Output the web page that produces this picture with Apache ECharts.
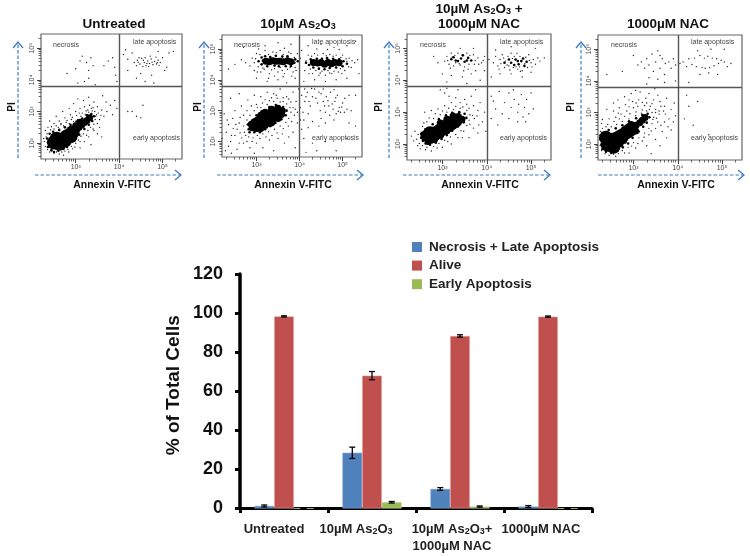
<!DOCTYPE html>
<html>
<head>
<meta charset="utf-8">
<title>Annexin V / PI flow cytometry</title>
<style>html,body{margin:0;padding:0;background:#fff}#chart{width:750px;height:556px}</style>
<script src="https://cdn.jsdelivr.net/npm/echarts@6/dist/echarts.min.js"></script>
</head>
<body>
<div id="chart"></div>
<script>
// bar chart values
var categories = ['Untreated', '10µM As2O3', '10µM As2O3+\n1000µM NAC', '1000µM NAC'];
var necrosisLate = [1.3, 28.5, 10, 1];
var alive = [98.3, 68, 88.3, 98.2];
var earlyApoptosis = [0, 3.2, 1, 0];
var necrosisLateErr = [0.5, 2.9, 0.7, 0.5];
var aliveErr = [0.3, 2.1, 0.6, 0.3];
var earlyApoptosisErr = [0, 0.4, 0.3, 0];
var yTicks = [0, 20, 40, 60, 80, 100, 120];

// flow panels, points are [log10 Annexin V, log10 PI], hand estimated from the plots.
// core / mid = solid mass, speck = thick speckle, dots = single events
var untreatedCore = [[2.5,2.02],[2.56,2.14],[2.62,1.98],[2.68,2.12],[2.75,2.08],[2.8,2.22],[2.88,2.22],[2.92,2.34]];
var untreatedMid = [[3.02,2.42],[3.08,2.5],[3.14,2.58],[3.2,2.65],[3.26,2.72],[3.32,2.8],[3.0,2.55],[3.1,2.66],[2.95,2.2]];
var untreatedSpeck = [[2.36,2.02],[2.34,2.15],[2.36,1.88],[2.44,1.78],[2.6,1.76],[2.72,1.82],[2.85,1.98],[2.98,2.1],[3.08,2.27],[3.2,2.45],[3.3,2.58],[3.38,2.7],[3.42,2.85],[3.36,2.92],[3.26,2.88],[3.15,2.78],[3.02,2.68],[2.88,2.58],[2.75,2.5],[2.62,2.42],[2.48,2.36],[2.4,2.3],[2.5,1.72],[2.8,1.88]];
var untreatedDots = [[2.28,2.05],[2.3,1.9],[2.32,2.2],[2.35,1.8],[2.34,2.3],[2.4,1.72],[2.45,1.75],[2.5,1.68],[2.56,1.72],[2.62,1.66],[2.68,1.72],[2.75,1.75],[2.82,1.8],[2.9,1.9],[2.93,1.82],[3.0,2.0],[3.06,2.1],[3.12,2.22],[3.18,2.3],[3.28,2.4],[3.34,2.5],[3.42,2.6],[3.45,2.75],[3.48,2.9],[3.44,3.0],[3.38,3.02],[3.3,2.98],[3.22,2.9],[3.12,2.85],[3.04,2.75],[2.95,2.68],[2.85,2.62],[2.72,2.55],[2.6,2.5],[2.5,2.45],[2.42,2.42],[2.36,2.5],[2.5,2.62],[2.62,2.7],[2.75,2.8],[2.88,2.9],[3.0,3.0],[3.1,3.1],[3.2,3.15],[3.32,3.2],[2.7,3.0],[2.85,3.1],[2.95,3.25],[3.05,3.4],[3.18,3.35],[3.3,3.45],[3.42,3.3],[3.5,3.15],[3.6,3.05],[3.55,2.75],[3.65,2.85],[3.72,3.0],[3.8,3.2],[3.7,3.3],[3.62,3.5],[3.85,2.9],[3.9,3.35],[3.95,3.1],[3.4,2.45],[3.55,2.5],[3.3,2.2],[3.5,2.3],[3.2,2.05],[3.35,1.95],[3.1,1.85],[3.6,2.2],[2.55,2.85],[2.4,2.7],[3.52,2.95],[3.46,2.85],[3.28,3.05],[3.15,2.95],[3.02,2.88],[2.9,2.75],[2.78,2.66],[2.66,2.58],[2.55,2.55],[2.44,2.52],[3.36,3.1],[2.66,2.62],[2.8,2.72],[2.92,2.82],[3.08,2.95],[3.24,3.02],[3.4,3.12],[3.58,2.88],[3.5,2.62],[3.42,2.4],[3.25,2.25],[3.1,2.05],[2.98,1.88],[2.84,1.72],[2.72,1.62],[2.26,2.15],[2.3,2.4],
[4.35,4.55],[4.42,4.62],[4.48,4.5],[4.52,4.68],[4.58,4.55],[4.62,4.45],[4.66,4.6],[4.7,4.52],[4.74,4.66],[4.78,4.48],[4.82,4.58],[4.86,4.5],[4.9,4.62],[4.95,4.55],[5.0,4.7],[4.4,4.45],[4.46,4.7],[4.55,4.42],[4.6,4.7],[4.68,4.42],[4.72,4.75],[4.85,4.72],[4.3,4.85],[4.15,4.95],[4.2,4.3],[4.5,4.2],[4.75,4.15],[4.9,4.9],[5.15,4.85],[5.25,4.9],[5.1,4.4],[4.6,3.95],[4.8,3.9],[4.4,4.05],[4.2,4.65],[4.1,4.8],[5.05,4.3],[4.44,4.56],[4.56,4.62],[4.64,4.52],[4.76,4.56],[4.88,4.54],[4.92,4.46],
[3.0,4.35],[3.1,4.6],[3.25,4.55],[3.3,4.3],[3.35,4.7],[3.3,4.05],[3.4,4.45],[3.2,3.95],[3.05,3.9],[3.65,4.45],[3.75,4.6],[3.85,4.7],[3.9,4.4],[3.92,4.15],[2.8,4.2],[3.45,3.85],[3.15,4.75],[3.95,3.95],
[4.2,3.0],[4.3,3.0],[4.4,2.85],[4.5,2.8],[4.55,3.2]];

var as2o3Core = [[3.0,2.55],[3.08,2.62],[3.16,2.7],[3.24,2.76],[3.32,2.82],[3.4,2.88],[3.46,2.92],[3.3,2.7]];
var as2o3Mid = [[2.9,2.45],[2.88,2.56],[3.0,2.42],[3.1,2.42],[3.2,2.52],[3.35,2.62],[3.5,2.75],[3.58,2.88],[3.6,3.0],[3.5,3.08],[3.35,3.05],[3.2,2.95],[3.1,2.85],
[3.22,4.6],[3.3,4.58],[3.38,4.62],[3.46,4.6],[3.54,4.6],[3.62,4.58],[3.72,4.62],[3.8,4.58],
[4.32,4.56],[4.42,4.54],[4.5,4.56],[4.58,4.5],[4.66,4.56],[4.74,4.52],[4.82,4.56],[4.92,4.55]];
var as2o3Speck = [[2.82,2.4],[2.8,2.55],[2.84,2.3],[3.0,2.72],[2.95,2.3],[3.08,2.3],[3.2,2.4],[3.32,2.5],[3.44,2.6],[3.58,2.72],[3.68,2.85],[3.7,3.0],[3.62,3.12],[3.45,3.18],[3.3,3.12],[3.12,2.98],[3.0,2.85],[2.92,2.68],
[3.05,4.6],[3.12,4.5],[3.12,4.72],[3.2,4.76],[3.25,4.44],[3.32,4.74],[3.42,4.46],[3.45,4.78],[3.52,4.44],[3.6,4.75],[3.68,4.44],[3.72,4.76],[3.8,4.45],[3.88,4.55],[3.9,4.66],[3.96,4.6],[3.15,4.62],
[4.15,4.55],[4.22,4.48],[4.26,4.66],[4.32,4.4],[4.4,4.68],[4.45,4.36],[4.52,4.68],[4.58,4.34],[4.64,4.7],[4.7,4.38],[4.78,4.68],[4.85,4.4],[4.92,4.66],[5.0,4.44],[5.02,4.6],[5.1,4.52]];
var as2o3Dots = [[2.72,2.3],[2.7,2.5],[2.78,2.7],[2.75,2.2],[2.82,2.15],[2.92,2.12],[3.02,2.2],[3.15,2.25],[3.28,2.32],[3.42,2.4],[3.55,2.5],[3.68,2.62],[3.75,2.75],[3.8,2.95],[3.78,3.1],[3.7,3.22],[3.55,3.28],[3.4,3.3],[3.25,3.2],[3.1,3.1],[2.95,3.0],[2.85,2.85],[2.7,2.85],[2.6,2.6],[2.55,2.4],[2.5,2.2],[2.4,2.0],[2.3,2.3],[2.35,1.85],[2.45,2.75],[2.28,1.7],[2.55,1.75],[2.7,1.95],[2.85,1.8],[3.0,1.95],[3.15,1.8],[3.3,2.05],[3.5,2.1],[3.65,1.95],[3.85,2.3],[3.95,2.6],[2.35,2.55],[2.5,3.0],[2.65,3.15],[2.8,3.35],[2.95,3.5],[3.1,3.45],[3.25,3.6],[3.4,3.55],[3.55,3.7],[3.7,3.45],[3.85,3.6],[3.92,3.3],[3.85,3.1],[3.95,2.95],[2.4,3.4],[2.6,3.55],[3.0,3.2],[3.2,3.35],[3.35,3.42],[3.48,3.4],[3.62,3.3],[3.75,3.38],[3.98,3.7],[2.25,2.9],[3.6,2.25],[3.75,2.15],[3.9,1.8],[2.42,1.62],[2.95,1.62],[3.4,1.7],[2.62,2.28],[2.66,2.12],[2.78,2.0],[2.9,2.0],[3.08,2.1],[3.22,2.15],[3.36,2.2],[3.48,2.28],[3.62,2.42],[3.74,2.5],[3.82,2.65],[3.88,2.85],[3.9,3.05],[3.8,3.28],[3.62,3.42],[3.46,3.5],[3.3,3.32],[3.14,3.25],[3.02,3.1],[2.88,3.15],[2.78,3.0],[2.62,2.78],[2.52,2.55],[2.46,2.42],[2.6,1.95],[2.42,2.2],[2.2,2.1],[2.32,2.7],
[4.05,3.5],[4.12,3.3],[4.18,3.6],[4.25,3.15],[4.3,3.45],[4.35,3.7],[4.42,3.25],[4.48,3.0],[4.5,3.55],[4.55,3.3],[4.6,2.95],[4.62,3.45],[4.68,3.15],[4.72,3.6],[4.78,3.05],[4.82,3.3],[4.85,2.9],[4.88,3.5],[4.92,3.1],[4.95,2.95],[5.0,3.25],[5.05,3.4],[5.1,3.05],[4.2,2.9],[4.1,2.7],[4.3,2.65],[4.05,2.4],[4.45,2.5],[4.6,2.6],[4.8,2.7],[5.2,3.0],[5.15,2.6],[4.1,2.1],[4.3,1.95],[4.6,2.0],[4.85,1.7],[5.1,2.1],[5.3,2.5],[4.4,1.7],[4.15,1.65],[5.3,3.5],[4.02,3.1],[4.08,2.95],[4.15,3.45],[4.22,3.3],[4.38,3.4],[4.45,3.6],[4.58,3.15],[4.66,3.32],[4.76,3.22],[4.84,3.42],[4.9,2.98],[4.98,3.12],[5.04,2.95],[4.12,3.7],[4.28,3.72],[4.55,3.7],[4.8,3.68],[5.15,3.5],[4.02,2.7],[4.2,2.45],[4.5,2.75],[4.7,2.85],
[2.75,4.55],[2.85,4.45],[2.9,4.7],[2.95,4.3],[3.0,4.85],[3.1,4.25],[3.2,4.95],[3.3,4.2],[3.38,4.9],[3.5,4.25],[3.55,4.95],[3.65,4.2],[3.75,4.9],[3.85,4.25],[3.95,4.85],[2.65,4.65],[2.5,4.5],[2.35,4.35],[3.0,4.05],[3.25,3.95],[3.5,4.0],[3.7,3.9],[3.9,4.05],[3.2,5.1],[3.5,5.2],[3.8,5.15],[2.7,5.05],[4.0,4.3],[4.02,4.7],[4.05,4.95],[3.04,4.42],[3.15,4.38],[3.28,4.82],[3.42,4.36],[3.55,4.4],[3.62,4.82],[3.78,4.4],[3.9,4.4],[3.88,4.72],[2.95,4.55],[2.98,4.68],[3.08,4.82],[3.18,4.34],[3.35,4.32],[3.46,4.88],[3.6,4.3],[3.72,4.34],[3.8,4.85],[3.92,4.3],[3.02,4.25],[3.42,4.12],[3.62,4.1],[3.82,4.12],[3.28,4.05],[3.05,5.0],[3.65,5.02],
[4.12,4.3],[4.2,4.8],[4.3,4.2],[4.35,4.85],[4.45,4.15],[4.55,4.85],[4.6,4.15],[4.7,4.82],[4.75,4.2],[4.85,4.8],[4.9,4.25],[5.0,4.8],[5.05,4.3],[5.15,4.7],[5.2,4.4],[5.28,4.55],[5.35,4.65],[4.1,3.95],[4.35,4.0],[4.6,3.95],[4.85,4.0],[5.1,4.05],[4.2,5.1],[4.5,5.15],[4.8,5.05],[5.1,5.1],[5.3,5.25],[5.38,4.2],[4.15,4.62],[4.25,4.35],[4.38,4.3],[4.52,4.28],[4.66,4.3],[4.8,4.28],[4.95,4.36],[5.1,4.6],[5.14,4.42],[4.28,4.76],[4.42,4.8],[4.62,4.78],[4.78,4.76],[4.96,4.72],[5.08,4.68],[4.22,4.2],[4.48,4.22],[4.7,4.22],[4.98,4.2],[5.22,4.62],[4.4,5.0],[4.65,4.98],[4.92,4.98]];

var comboCore = [[2.72,2.22],[2.8,2.28],[2.88,2.36],[2.96,2.44],[3.04,2.5],[3.12,2.58],[3.2,2.64],[3.28,2.72],[2.72,2.34]];
var comboMid = [[2.6,2.2],[2.58,2.3],[2.68,2.08],[2.82,2.14],[2.96,2.28],[3.1,2.42],[3.36,2.68],[3.44,2.78],[3.36,2.86],[3.24,2.88],[3.1,2.78],[2.95,2.66]];
var comboSpeck = [[2.52,2.2],[2.52,2.32],[2.56,2.1],[2.62,2.02],[2.72,1.98],[2.85,2.04],[2.98,2.16],[3.1,2.28],[3.22,2.42],[3.35,2.55],[3.48,2.68],[3.54,2.82],[3.5,2.95],[3.38,3.0],[3.22,2.98],[3.08,2.9],[2.92,2.78],[2.78,2.62],[2.62,2.46],
[3.25,4.72],[3.35,4.6],[3.42,4.68],[3.5,4.58],[3.58,4.7],[3.65,4.62],[3.3,4.62],[3.46,4.78],[3.55,4.62],[3.2,4.66],
[4.4,4.55],[4.5,4.65],[4.55,4.55],[4.65,4.65],[4.72,4.5],[4.78,4.6],[4.85,4.45],[4.9,4.58],[4.62,4.48],[4.7,4.6],[4.82,4.68]];
var comboDots = [[2.45,2.3],[2.42,2.15],[2.48,2.02],[2.55,1.95],[2.65,1.9],[2.8,1.92],[2.92,2.02],[3.05,2.12],[3.18,2.22],[3.3,2.3],[3.42,2.42],[3.55,2.58],[3.6,2.75],[3.62,2.92],[3.55,3.05],[3.4,3.12],[3.25,3.08],[3.1,3.0],[2.95,2.92],[2.8,2.8],[2.65,2.7],[2.55,2.55],[2.38,2.4],[2.35,2.1],[2.5,1.85],[2.75,1.78],[3.0,1.9],[3.2,2.0],[3.45,2.2],[3.7,2.5],[3.72,2.8],[3.8,3.05],[3.7,3.2],[3.55,3.25],[3.4,3.3],[3.2,3.3],[3.05,3.2],[2.9,3.1],[2.75,3.05],[3.15,3.5],[3.3,3.45],[3.5,3.4],[3.65,3.5],[3.85,3.3],[3.95,3.0],[3.9,2.7],[3.8,2.35],[3.6,2.2],[3.05,3.6],[2.95,3.7],[3.1,3.75],[3.35,3.7],[3.75,3.7],[2.3,2.25],[2.6,3.0],[3.98,2.4],[3.62,2.62],[3.68,2.9],[3.6,3.12],[3.46,3.16],[3.3,3.18],[3.14,3.12],[3.0,3.04],[2.84,2.95],[2.7,2.82],[2.58,2.66],[3.48,2.4],[3.35,2.2],[3.12,2.08],[2.88,1.88],[2.62,1.82],[2.44,1.95],[3.82,2.6],[3.78,2.88],
[4.1,3.5],[4.2,3.1],[4.28,3.65],[4.35,2.95],[4.4,3.3],[4.5,3.6],[4.55,3.15],[4.62,3.4],[4.7,3.0],[4.72,3.25],[4.78,3.55],[4.82,2.85],[4.85,3.15],[4.9,3.4],[4.95,2.95],[4.7,2.7],[4.5,2.8],[4.25,2.6],[4.1,2.8],[5.05,3.1],[5.0,3.6],[4.15,3.35],[4.6,3.7],[4.88,2.7],
[3.05,4.6],[3.1,4.75],[3.15,4.5],[3.2,4.85],[3.25,4.45],[3.3,4.55],[3.35,4.85],[3.4,4.48],[3.45,4.8],[3.5,4.42],[3.55,4.85],[3.6,4.5],[3.7,4.8],[3.72,4.5],[3.8,4.7],[3.88,4.55],[3.95,4.75],[3.0,4.2],[3.2,4.15],[3.45,4.1],[3.65,4.2],[3.85,4.0],[3.75,4.3],[2.9,4.55],[2.8,4.75],[3.4,5.0],[3.7,5.0],[3.95,4.3],[3.1,3.95],[3.55,3.9],[3.12,4.62],[3.22,4.72],[3.28,4.78],[3.38,4.52],[3.62,4.78],[3.74,4.62],[3.82,4.5],[3.92,4.62],[3.18,4.38],[3.48,4.3],[3.58,4.35],
[4.05,4.65],[4.15,4.55],[4.2,4.75],[4.25,4.45],[4.3,4.65],[4.35,4.8],[4.4,4.4],[4.42,4.6],[4.48,4.75],[4.5,4.45],[4.55,4.85],[4.6,4.4],[4.62,4.75],[4.68,4.85],[4.7,4.35],[4.75,4.75],[4.8,4.3],[4.88,4.72],[4.92,4.4],[4.95,4.8],[5.0,4.55],[5.05,4.65],[5.1,4.5],[5.15,4.7],[5.2,4.6],[5.3,4.7],[4.3,4.2],[4.55,4.2],[4.8,4.1],[5.0,4.25],[4.2,4.95],[4.55,5.05],[5.1,5.0],[4.1,4.1],[4.32,4.52],[4.38,4.7],[4.46,4.48],[4.58,4.68],[4.66,4.42],[4.74,4.42],[4.86,4.52],[4.96,4.62],[5.02,4.42],[4.28,4.35],[4.52,4.32],[4.76,4.28]];

var nacCore = [[2.42,1.98],[2.42,2.12],[2.52,2.0],[2.55,2.15],[2.62,2.1],[2.68,2.22],[2.76,2.28],[2.85,2.38],[2.92,2.45],[2.55,1.92],[2.38,2.2]];
var nacMid = [[3.0,2.52],[3.06,2.6],[3.14,2.68],[3.2,2.76],[3.26,2.84],[2.95,2.62],[3.05,2.42],[2.78,2.12],[2.7,2.02]];
var nacSpeck = [[2.28,2.0],[2.26,2.15],[2.3,1.85],[2.38,1.76],[2.5,1.72],[2.64,1.8],[2.76,1.9],[2.88,2.02],[2.98,2.2],[3.12,2.4],[3.22,2.55],[3.3,2.68],[3.36,2.85],[3.32,2.96],[3.2,2.92],[3.06,2.82],[2.9,2.72],[2.75,2.6],[2.6,2.5],[2.44,2.45],[2.3,2.35],[2.26,2.28]];
var nacDots = [[2.25,1.95],[2.24,2.2],[2.28,1.8],[2.26,2.4],[2.3,2.5],[2.36,1.7],[2.45,1.65],[2.55,1.68],[2.66,1.7],[2.75,1.8],[2.88,1.9],[3.0,2.05],[3.12,2.2],[3.25,2.35],[3.35,2.5],[3.42,2.65],[3.46,2.85],[3.42,3.0],[3.3,3.05],[3.18,2.98],[3.05,2.9],[2.9,2.8],[2.75,2.72],[2.62,2.62],[2.5,2.55],[2.38,2.55],[2.28,2.65],[2.45,2.8],[2.6,2.85],[2.72,2.95],[2.85,3.05],[3.0,3.15],[3.1,3.2],[3.25,3.22],[3.38,3.2],[3.5,3.1],[3.58,2.95],[3.55,2.7],[3.5,2.5],[3.35,2.3],[3.2,2.1],[3.05,1.88],[2.9,1.72],[3.3,1.95],[3.5,2.15],[3.65,2.4],[3.7,2.7],[3.72,2.95],[3.8,2.8],[3.85,3.1],[3.7,3.2],[3.6,3.35],[3.45,3.4],[3.28,3.45],[3.12,3.4],[2.98,3.35],[2.82,3.25],[2.68,3.15],[2.55,3.05],[2.4,3.1],[2.65,3.4],[2.8,3.5],[2.95,3.6],[3.15,3.65],[3.35,3.6],[3.55,3.55],[3.75,3.45],[3.92,3.3],[3.95,2.9],[3.85,2.45],[3.6,1.95],[3.75,2.2],[3.4,1.7],[2.55,3.3],[3.05,3.7],[3.48,3.75],[2.9,3.4],[3.2,3.32],[3.42,3.28],[3.62,3.2],[3.68,3.05],[3.52,2.82],[2.56,2.72],[2.68,2.8],[2.8,2.88],[2.92,2.96],[3.06,3.02],[3.2,3.08],[3.36,3.1],[3.5,3.0],[3.44,2.78],[3.4,2.42],[3.24,2.22],[3.1,2.02],[2.96,1.94],[2.8,1.72],[2.6,1.62],[2.42,2.62],[2.3,2.78],[2.66,2.98],[2.9,3.18],[3.06,3.3],[3.3,3.3],[3.58,3.05],[3.62,2.6],[3.78,2.55],[3.9,2.7],
[4.15,2.8],[4.25,3.2],[4.35,2.6],[4.45,3.35],[4.7,2.3],[4.2,3.55],
[3.1,4.5],[3.18,4.6],[3.25,4.4],[3.3,4.7],[3.35,4.5],[3.42,4.85],[3.45,4.3],[3.5,4.6],[3.55,4.95],[3.6,4.4],[3.65,4.7],[3.7,4.2],[3.72,4.55],[3.8,4.6],[3.85,4.4],[3.9,4.7],[3.95,4.5],[3.35,4.1],[3.55,4.05],[3.7,3.95],[3.3,3.9],[3.95,4.0],[2.75,4.3],[2.4,4.2],[3.0,4.8],[3.6,4.8],
[4.05,4.55],[4.12,4.6],[4.2,4.45],[4.25,4.7],[4.32,4.52],[4.38,4.72],[4.42,4.45],[4.5,4.8],[4.55,4.42],[4.6,4.72],[4.62,4.4],[4.68,4.78],[4.72,4.42],[4.78,4.72],[4.82,4.48],[4.88,4.7],[4.92,4.55],[4.98,4.65],[5.05,4.6],[5.12,4.45],[5.2,4.55],[4.5,4.2],[4.7,4.25],[4.9,4.2],[4.25,3.95],[5.05,5.0],[4.45,4.95],[4.75,5.0]];

var panels = [
    { title: ['Untreated'], left: 41, top: 34, width: 141, height: 125, cx: 114, cy: 24, core: untreatedCore, mid: untreatedMid, speck: untreatedSpeck, dots: untreatedDots, piX: 12, nameX: 112, yArrow: 18, xArrow: [35, 181], necrosisX: 53, quadX: 133 },
    { title: ['10µM As2O3'], left: 222, top: 35, width: 140, height: 122, cx: 298, cy: 24, core: as2o3Core, mid: as2o3Mid, speck: as2o3Speck, dots: as2o3Dots, piX: 198, nameX: 293, yArrow: 204, xArrow: [217, 363], necrosisX: 234, quadX: 312 },
    { title: ['10µM As2O3 +', '1000µM NAC'], left: 407, top: 34, width: 144, height: 126, cx: 479, cy: 24, core: comboCore, mid: comboMid, speck: comboSpeck, dots: comboDots, piX: 379, nameX: 480, yArrow: 389, xArrow: [403, 550], necrosisX: 420, quadX: 500 },
    { title: ['1000µM NAC'], left: 598, top: 35, width: 144, height: 125, cx: 668, cy: 24, core: nacCore, mid: nacMid, speck: nacSpeck, dots: nacDots, piX: 571, nameX: 676, yArrow: 581, xArrow: [598, 744], necrosisX: 611, quadX: 691 }
];

var xRange = [2.2, 5.45];
var yRange = [1.5, 5.45];
var gateX = 4;
var gateY = 3.8;
var FONT = '"Liberation Sans", Arial, sans-serif';
var arrowBlue = '#3b7cc4';

var chart = echarts.init(document.getElementById('chart'));

var grids = [], xAxes = [], yAxes = [], series = [], graphics = [];

function decadeLabel(v) {
    return '10' + { 2: '²', 3: '³', 4: '⁴', 5: '⁵' }[Math.round(v)];
}

function minorTicks(range) {
    var out = [];
    for (var d = 1; d <= 5; d++) {
        for (var m = 2; m <= 9; m++) {
            var v = d + Math.log10(m);
            if (v > range[0] && v < range[1]) out.push(v);
        }
    }
    return out;
}

function addText(x, y, text, style) {
    graphics.push({
        type: 'text', x: x, y: y, silent: true, rotation: style.rotation || 0,
        style: {
            text: text, align: style.align || 'center', verticalAlign: 'middle', fill: style.fill || '#111',
            font: (style.weight || 'bold') + ' ' + style.size + 'px ' + FONT,
            rich: style.rich
        }
    });
}

function addArrow(x1, y1, x2, y2) {
    graphics.push({ type: 'line', silent: true, shape: { x1: x1, y1: y1, x2: x2, y2: y2 }, style: { stroke: arrowBlue, lineWidth: 1.2, lineDash: [3.5, 2] } });
    var pts = (x1 === x2) ? [[x2 - 5, y2 + 6], [x2, y2], [x2 + 5, y2 + 6]] : [[x2 - 6, y2 - 5], [x2, y2], [x2 - 6, y2 + 5]];
    graphics.push({ type: 'polyline', silent: true, shape: { points: pts }, style: { stroke: arrowBlue, lineWidth: 1.3, fill: 'none' } });
}

var titleRich = { s: { fontSize: 9, fontWeight: 'bold', fontFamily: FONT, fill: '#111', padding: [6, 0, 0, 0] }, b: { fontSize: 13.5, fontWeight: 'bold', fontFamily: FONT, fill: '#111' } };

function subscripted(line) {
    return '{b|' + line.replace('As2O3', 'As}{s|2}{b|O}{s|3}{b|') + '}';
}

panels.forEach(function(p, i) {
    grids.push({ left: p.left, top: p.top, width: p.width, height: p.height, show: true, borderColor: '#666', borderWidth: 1.2, backgroundColor: 'transparent' });
    var ax = xAxes.length, ay = yAxes.length;
    var labelStyle = { color: '#444', fontSize: 7, fontFamily: FONT, hideOverlap: false };
    // main axes carry the decade ticks and labels, second pair only the minor log ticks
    xAxes.push({
        type: 'value', gridIndex: i, min: xRange[0], max: xRange[1], position: 'bottom', splitLine: { show: false }, axisLine: { show: false },
        axisTick: { show: true, customValues: [3, 4, 5], length: 4, lineStyle: { color: '#444', width: 1 } },
        axisLabel: Object.assign({ show: true, customValues: [3, 4, 5], margin: 5, formatter: decadeLabel }, labelStyle)
    });
    xAxes.push({
        type: 'value', gridIndex: i, min: xRange[0], max: xRange[1], position: 'bottom', splitLine: { show: false }, axisLine: { show: false }, axisLabel: { show: false },
        axisTick: { show: true, customValues: minorTicks(xRange), length: 2.5, lineStyle: { color: '#444', width: 0.8 } }
    });
    yAxes.push({
        type: 'value', gridIndex: i, min: yRange[0], max: yRange[1], position: 'left', splitLine: { show: false }, axisLine: { show: false },
        axisTick: { show: true, customValues: [2, 3, 4, 5], length: 4, lineStyle: { color: '#444', width: 1 } },
        axisLabel: Object.assign({ show: true, customValues: [2, 3, 4, 5], rotate: 90, margin: 5, formatter: decadeLabel }, labelStyle)
    });
    yAxes.push({
        type: 'value', gridIndex: i, min: yRange[0], max: yRange[1], position: 'left', splitLine: { show: false }, axisLine: { show: false }, axisLabel: { show: false },
        axisTick: { show: true, customValues: minorTicks(yRange), length: 2.5, lineStyle: { color: '#444', width: 0.8 } }
    });

    [[p.dots, 1.4, '#222'], [p.speck, 2.6, '#000'], [p.mid, 7, '#000'], [p.core, 14, '#000']].forEach(function(s) {
        series.push({ type: 'scatter', xAxisIndex: ax, yAxisIndex: ay, data: s[0], symbol: 'circle', symbolSize: s[1], itemStyle: { color: s[2], opacity: 1 }, silent: true, animation: false });
    });
    series.push({
        type: 'scatter', xAxisIndex: ax, yAxisIndex: ay, data: [], silent: true,
        markLine: { silent: true, symbol: 'none', animation: false, label: { show: false }, lineStyle: { color: '#555', width: 1.4, type: 'solid' }, data: [{ xAxis: gateX }, { yAxis: gateY }] }
    });

    if (p.title.length === 1) {
        addText(p.cx, p.cy, subscripted(p.title[0]), { size: 13.5, rich: titleRich });
    } else {
        addText(p.cx, 9, subscripted(p.title[0]), { size: 13.5, rich: titleRich });
        addText(p.cx, p.cy, subscripted(p.title[1]), { size: 13.5, rich: titleRich });
    }
    addText(p.nameX, 185, 'Annexin V-FITC', { size: 10.5 });
    addText(p.piX, 107, 'PI', { size: 10, rotation: Math.PI / 2 });
    addArrow(p.yArrow, 158, p.yArrow, 42);
    addArrow(p.xArrow[0], 175, p.xArrow[1], 175);
    addText(p.necrosisX, 45, 'necrosis', { size: 7, weight: 'normal', align: 'left', fill: '#444' });
    addText(p.quadX, 42, 'late apoptosis', { size: 7, weight: 'normal', align: 'left', fill: '#444' });
    addText(p.quadX, 138, 'early apoptosis', { size: 7, weight: 'normal', align: 'left', fill: '#444' });
});

// bar chart
var barGrid = grids.length;
var barWidth = 19.7;
grids.push({ left: 240, top: 274, width: 352, height: 234.5 });
var barX = xAxes.length, barY = yAxes.length;
// spacers nudge each label left of its band, as in the source figure
var catSpacer = ['{p20|}', '{p32|}', '{p16|}', '{p14|}'];
xAxes.push({
    type: 'category', gridIndex: barGrid, data: categories,
    axisLine: { lineStyle: { color: '#000', width: 3 } },
    axisTick: { show: true, length: 4.5, lineStyle: { color: '#000', width: 3 } },
    axisLabel: {
        interval: 0, margin: 12, color: '#222', fontSize: 13, fontWeight: 'bold', fontFamily: FONT, lineHeight: 17,
        formatter: function(value, idx) {
            return value.split('\n').map(function(line) {
                return line.replace('As2O3', 'As{s|2}O{s|3}') + catSpacer[idx];
            }).join('\n');
        },
        rich: {
            s: { fontSize: 9, fontWeight: 'bold', fontFamily: FONT, color: '#222', padding: [5, 0, 0, 0] },
            p14: { width: 14 }, p16: { width: 16 }, p20: { width: 20 }, p32: { width: 32 }
        }
    }
});
yAxes.push({
    type: 'value', gridIndex: barGrid, min: yTicks[0], max: yTicks[yTicks.length - 1], interval: 20,
    splitLine: { show: false },
    axisLine: { show: true, lineStyle: { color: '#000', width: 3.5 } },
    axisTick: { show: true, length: 5, lineStyle: { color: '#000', width: 3 } },
    axisLabel: { margin: 17, color: '#111', fontSize: 18, fontWeight: 'bold', fontFamily: FONT },
    name: '% of Total Cells', nameLocation: 'middle', nameGap: 57,
    nameTextStyle: { color: '#111', fontSize: 19, fontWeight: 'bold', fontFamily: FONT, padding: [0, 0, 0, 12] }
});

var barSeries = [
    { name: 'Necrosis + Late Apoptosis', values: necrosisLate, errs: necrosisLateErr, color: '#4f81bd', edge: '#7ba0cf' },
    { name: 'Alive', values: alive, errs: aliveErr, color: '#c0504d', edge: '#e3a09e' },
    { name: 'Early Apoptosis', values: earlyApoptosis, errs: earlyApoptosisErr, color: '#9bbb59', edge: '#b9d089' }
];

barSeries.forEach(function(s) {
    series.push({
        type: 'bar', name: s.name, xAxisIndex: barX, yAxisIndex: barY, data: s.values, barWidth: barWidth, barGap: 0,
        itemStyle: { color: s.color, borderColor: s.edge, borderWidth: 0.6 }, silent: true, animation: false
    });
});

barSeries.forEach(function(s, k) {
    series.push({
        type: 'custom', name: s.name + ' error', xAxisIndex: barX, yAxisIndex: barY, silent: true, animation: false, clip: false, z: 5,
        encode: { x: 0, y: [1, 2] },
        data: s.values.map(function(v, c) { return [c, Math.max(v - s.errs[c], 0), v + s.errs[c]]; }),
        renderItem: function(params, api) {
            var lo = api.coord([api.value(0), api.value(1)]);
            var hi = api.coord([api.value(0), api.value(2)]);
            var x = lo[0] + (k - 1) * barWidth;
            var st = { stroke: '#000', lineWidth: 1.3 };
            return {
                type: 'group', children: [
                    { type: 'line', shape: { x1: x, y1: lo[1], x2: x, y2: hi[1] }, style: st },
                    { type: 'line', shape: { x1: x - 3, y1: lo[1], x2: x + 3, y2: lo[1] }, style: st },
                    { type: 'line', shape: { x1: x - 3, y1: hi[1], x2: x + 3, y2: hi[1] }, style: st }
                ]
            };
        }
    });
});

chart.setOption({
    animation: false,
    backgroundColor: '#fff',
    grid: grids,
    xAxis: xAxes,
    yAxis: yAxes,
    series: series,
    graphic: graphics,
    legend: {
        data: barSeries.map(function(s) { return s.name; }),
        orient: 'vertical', left: 407, top: 235, itemWidth: 10, itemHeight: 10, itemGap: 4.6, icon: 'rect', selectedMode: false,
        itemStyle: { borderWidth: 0 },
        textStyle: { color: '#222', fontSize: 13.5, fontWeight: 'bold', fontFamily: FONT, padding: [0, 0, 0, 2] }
    }
});
</script>
</body>
</html>
